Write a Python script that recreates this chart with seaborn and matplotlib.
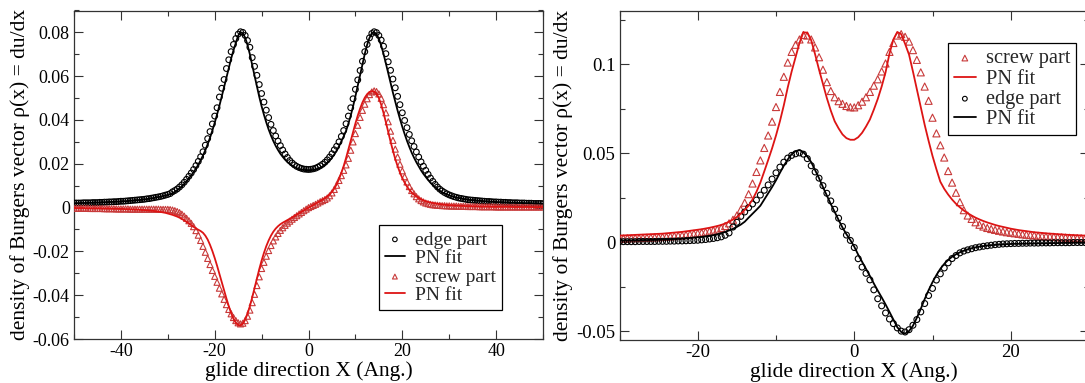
import numpy as np
import matplotlib
matplotlib.use("Agg")
import matplotlib.pyplot as plt
from matplotlib.ticker import FixedLocator, MultipleLocator
import seaborn as sns

# ---------------- data: left panel (x = -50 ... 50 Ang., step 0.5) ----------------
left_x_start, left_x_stop, left_x_step = -50.0, 50.0, 0.5

edge_pts_L = [
    0.0021, 0.0021, 0.0021, 0.0021, 0.0022, 0.0022, 0.0022, 0.0022, 0.0023, 0.0023,  # -50
    0.0023, 0.0024, 0.0024, 0.0025, 0.0025, 0.0026, 0.0026, 0.0027, 0.0027, 0.0028,  # -45
    0.0029, 0.0029, 0.0030, 0.0031, 0.0032, 0.0033, 0.0034, 0.0035, 0.0036, 0.0037,  # -40
    0.0038, 0.0040, 0.0041, 0.0043, 0.0045, 0.0047, 0.0049, 0.0051, 0.0054, 0.0057,  # -35
    0.0060, 0.0064, 0.0072, 0.0078, 0.0085, 0.0094, 0.0104, 0.0116, 0.0129, 0.0143,  # -30
    0.0158, 0.0174, 0.0192, 0.0211, 0.0232, 0.0255, 0.0285, 0.0315, 0.0347, 0.0382,  # -25
    0.0418, 0.0456, 0.0505, 0.0545, 0.0585, 0.0635, 0.0675, 0.0712, 0.0745, 0.0772,  # -20
    0.0792, 0.0803, 0.0800, 0.0786, 0.0763, 0.0732, 0.0685, 0.0645, 0.0604, 0.0562,  # -15
    0.0521, 0.0482, 0.0445, 0.0411, 0.0380, 0.0352, 0.0327, 0.0304, 0.0283, 0.0263,  # -10
    0.0245, 0.0229, 0.0215, 0.0204, 0.0195, 0.0188, 0.0183, 0.0179, 0.0176, 0.0175,  # -5
    0.0174, 0.0175, 0.0177, 0.0180, 0.0185, 0.0191, 0.0198, 0.0207, 0.0218, 0.0231,  # 0
    0.0246, 0.0264, 0.0280, 0.0300, 0.0325, 0.0352, 0.0383, 0.0418, 0.0456, 0.0497,  # 5
    0.0540, 0.0583, 0.0626, 0.0668, 0.0712, 0.0745, 0.0775, 0.0795, 0.0803, 0.0799,  # 10
    0.0786, 0.0765, 0.0737, 0.0703, 0.0666, 0.0627, 0.0587, 0.0547, 0.0508, 0.0470,  # 15
    0.0433, 0.0398, 0.0365, 0.0334, 0.0305, 0.0279, 0.0254, 0.0231, 0.0209, 0.0189,  # 20
    0.0170, 0.0152, 0.0135, 0.0120, 0.0106, 0.0094, 0.0084, 0.0076, 0.0069, 0.0063,  # 25
    0.0058, 0.0054, 0.0050, 0.0047, 0.0044, 0.0042, 0.0040, 0.0038, 0.0036, 0.0035,  # 30
    0.0034, 0.0033, 0.0032, 0.0031, 0.0030, 0.0029, 0.0028, 0.0028, 0.0027, 0.0026,  # 35
    0.0026, 0.0025, 0.0025, 0.0024, 0.0024, 0.0023, 0.0023, 0.0022, 0.0022, 0.0022,  # 40
    0.0021, 0.0021, 0.0021, 0.0020, 0.0020, 0.0020, 0.0019, 0.0019, 0.0019, 0.0019,  # 45
    0.0018,                                                                          # 50
]

edge_fit_L = [
    0.0020, 0.0020, 0.0020, 0.0021, 0.0021, 0.0021, 0.0022, 0.0022, 0.0022, 0.0023,  # -50
    0.0023, 0.0023, 0.0024, 0.0024, 0.0025, 0.0025, 0.0026, 0.0026, 0.0027, 0.0027,  # -45
    0.0028, 0.0029, 0.0029, 0.0030, 0.0031, 0.0032, 0.0033, 0.0034, 0.0035, 0.0036,  # -40
    0.0037, 0.0039, 0.0040, 0.0042, 0.0044, 0.0046, 0.0048, 0.0050, 0.0052, 0.0055,  # -35
    0.0058, 0.0062, 0.0066, 0.0072, 0.0080, 0.0088, 0.0097, 0.0108, 0.0120, 0.0133,  # -30
    0.0147, 0.0162, 0.0178, 0.0196, 0.0216, 0.0238, 0.0262, 0.0289, 0.0319, 0.0352,  # -25
    0.0387, 0.0425, 0.0465, 0.0507, 0.0550, 0.0594, 0.0638, 0.0680, 0.0718, 0.0752,  # -20
    0.0785, 0.0801, 0.0796, 0.0776, 0.0742, 0.0700, 0.0652, 0.0602, 0.0553, 0.0506,  # -15
    0.0463, 0.0424, 0.0389, 0.0357, 0.0329, 0.0304, 0.0282, 0.0263, 0.0246, 0.0232,  # -10
    0.0219, 0.0208, 0.0199, 0.0191, 0.0185, 0.0180, 0.0176, 0.0173, 0.0172, 0.0171,  # -5
    0.0171, 0.0171, 0.0172, 0.0174, 0.0177, 0.0182, 0.0188, 0.0195, 0.0204, 0.0215,  # 0
    0.0228, 0.0243, 0.0260, 0.0280, 0.0302, 0.0325, 0.0350, 0.0383, 0.0420, 0.0462,  # 5
    0.0508, 0.0557, 0.0607, 0.0656, 0.0702, 0.0743, 0.0775, 0.0796, 0.0801, 0.0792,  # 10
    0.0771, 0.0740, 0.0702, 0.0659, 0.0614, 0.0569, 0.0525, 0.0483, 0.0443, 0.0405,  # 15
    0.0369, 0.0336, 0.0305, 0.0277, 0.0251, 0.0228, 0.0207, 0.0188, 0.0170, 0.0154,  # 20
    0.0140, 0.0126, 0.0114, 0.0103, 0.0093, 0.0084, 0.0077, 0.0070, 0.0065, 0.0060,  # 25
    0.0056, 0.0052, 0.0049, 0.0046, 0.0044, 0.0042, 0.0040, 0.0038, 0.0036, 0.0035,  # 30
    0.0034, 0.0033, 0.0032, 0.0031, 0.0030, 0.0029, 0.0028, 0.0027, 0.0027, 0.0026,  # 35
    0.0025, 0.0025, 0.0024, 0.0024, 0.0023, 0.0023, 0.0022, 0.0022, 0.0022, 0.0021,  # 40
    0.0021, 0.0021, 0.0020, 0.0020, 0.0020, 0.0020, 0.0019, 0.0019, 0.0019, 0.0018,  # 45
    0.0018,                                                                          # 50
]

screw_pts_L = [
    -0.0003, -0.0003, -0.0003, -0.0003, -0.0003, -0.0003, -0.0003, -0.0004, -0.0004, -0.0004,  # -50
    -0.0004, -0.0004, -0.0004, -0.0005, -0.0005, -0.0005, -0.0005, -0.0005, -0.0006, -0.0006,  # -45
    -0.0006, -0.0006, -0.0006, -0.0006, -0.0007, -0.0007, -0.0007, -0.0007, -0.0007, -0.0007,  # -40
    -0.0007, -0.0007, -0.0007, -0.0007, -0.0007, -0.0007, -0.0007, -0.0008, -0.0008, -0.0008,  # -35
    -0.0008, -0.0009, -0.0011, -0.0014, -0.0018, -0.0023, -0.0030, -0.0039, -0.0049, -0.0060,  # -30
    -0.0072, -0.0087, -0.0105, -0.0126, -0.0150, -0.0177, -0.0204, -0.0232, -0.0260, -0.0287,  # -25
    -0.0314, -0.0341, -0.0368, -0.0394, -0.0419, -0.0443, -0.0465, -0.0485, -0.0502, -0.0516,  # -20
    -0.0526, -0.0531, -0.0528, -0.0516, -0.0496, -0.0468, -0.0434, -0.0396, -0.0356, -0.0316,  # -15
    -0.0278, -0.0250, -0.0222, -0.0196, -0.0173, -0.0152, -0.0134, -0.0118, -0.0104, -0.0092,  # -10
    -0.0081, -0.0071, -0.0062, -0.0053, -0.0045, -0.0037, -0.0029, -0.0022, -0.0014, -0.0007,  # -5
    0.0000, 0.0005, 0.0010, 0.0015, 0.0021, 0.0027, 0.0032, 0.0037, 0.0044, 0.0054,  # 0
    0.0067, 0.0083, 0.0102, 0.0124, 0.0146, 0.0170, 0.0195, 0.0225, 0.0262, 0.0300,  # 5
    0.0338, 0.0376, 0.0412, 0.0444, 0.0472, 0.0497, 0.0516, 0.0528, 0.0533, 0.0530,  # 10
    0.0519, 0.0499, 0.0470, 0.0433, 0.0392, 0.0349, 0.0307, 0.0267, 0.0231, 0.0198,  # 15
    0.0168, 0.0141, 0.0117, 0.0096, 0.0078, 0.0063, 0.0050, 0.0040, 0.0032, 0.0026,  # 20
    0.0021, 0.0018, 0.0015, 0.0013, 0.0012, 0.0011, 0.0010, 0.0009, 0.0009, 0.0008,  # 25
    0.0008, 0.0007, 0.0007, 0.0007, 0.0006, 0.0006, 0.0006, 0.0006, 0.0005, 0.0005,  # 30
    0.0005, 0.0005, 0.0005, 0.0004, 0.0004, 0.0004, 0.0004, 0.0004, 0.0004, 0.0004,  # 35
    0.0003, 0.0003, 0.0003, 0.0003, 0.0003, 0.0003, 0.0003, 0.0003, 0.0003, 0.0003,  # 40
    0.0003, 0.0003, 0.0003, 0.0003, 0.0003, 0.0003, 0.0003, 0.0003, 0.0003, 0.0003,  # 45
    0.0003,                                                                          # 50
]

screw_fit_L = [
    -0.0002, -0.0002, -0.0002, -0.0002, -0.0002, -0.0003, -0.0003, -0.0003, -0.0003, -0.0003,  # -50
    -0.0003, -0.0003, -0.0004, -0.0004, -0.0004, -0.0004, -0.0005, -0.0005, -0.0005, -0.0006,  # -45
    -0.0006, -0.0006, -0.0007, -0.0007, -0.0008, -0.0008, -0.0009, -0.0009, -0.0010, -0.0011,  # -40
    -0.0011, -0.0012, -0.0013, -0.0014, -0.0015, -0.0017, -0.0018, -0.0020, -0.0022, -0.0024,  # -35
    -0.0027, -0.0030, -0.0033, -0.0037, -0.0041, -0.0046, -0.0052, -0.0058, -0.0065, -0.0072,  # -30
    -0.0080, -0.0088, -0.0095, -0.0101, -0.0107, -0.0115, -0.0128, -0.0146, -0.0170, -0.0198,  # -25
    -0.0230, -0.0265, -0.0302, -0.0340, -0.0378, -0.0415, -0.0450, -0.0482, -0.0508, -0.0526,  # -20
    -0.0536, -0.0538, -0.0530, -0.0512, -0.0485, -0.0450, -0.0410, -0.0367, -0.0323, -0.0281,  # -15
    -0.0242, -0.0207, -0.0176, -0.0150, -0.0128, -0.0110, -0.0096, -0.0085, -0.0076, -0.0069,  # -10
    -0.0063, -0.0057, -0.0051, -0.0045, -0.0039, -0.0032, -0.0026, -0.0019, -0.0013, -0.0006,  # -5
    0.0000, 0.0006, 0.0012, 0.0018, 0.0024, 0.0030, 0.0036, 0.0043, 0.0051, 0.0060,  # 0
    0.0072, 0.0087, 0.0106, 0.0130, 0.0158, 0.0190, 0.0226, 0.0265, 0.0305, 0.0345,  # 5
    0.0384, 0.0420, 0.0452, 0.0480, 0.0502, 0.0518, 0.0528, 0.0532, 0.0530, 0.0520,  # 10
    0.0500, 0.0470, 0.0432, 0.0390, 0.0345, 0.0301, 0.0260, 0.0222, 0.0189, 0.0160,  # 15
    0.0135, 0.0114, 0.0096, 0.0081, 0.0069, 0.0059, 0.0051, 0.0044, 0.0038, 0.0033,  # 20
    0.0029, 0.0026, 0.0023, 0.0021, 0.0019, 0.0017, 0.0016, 0.0014, 0.0013, 0.0012,  # 25
    0.0011, 0.0011, 0.0010, 0.0009, 0.0009, 0.0008, 0.0008, 0.0007, 0.0007, 0.0007,  # 30
    0.0006, 0.0006, 0.0006, 0.0005, 0.0005, 0.0005, 0.0005, 0.0005, 0.0004, 0.0004,  # 35
    0.0004, 0.0004, 0.0004, 0.0004, 0.0004, 0.0004, 0.0004, 0.0003, 0.0003, 0.0003,  # 40
    0.0003, 0.0003, 0.0003, 0.0003, 0.0003, 0.0003, 0.0002, 0.0002, 0.0002, 0.0002,  # 45
    0.0002,                                                                          # 50
]

# ---------------- data: right panel (x = -30 ... 30 Ang., step 0.5) ----------------
right_x_start, right_x_stop, right_x_step = -30.0, 30.0, 0.5

screw_pts_R = [
    0.0021, 0.0021, 0.0022, 0.0022, 0.0023, 0.0023, 0.0024, 0.0025, 0.0026, 0.0027,  # -30
    0.0028, 0.0029, 0.0030, 0.0032, 0.0034, 0.0036, 0.0038, 0.0041, 0.0044, 0.0047,  # -25
    0.0050, 0.0053, 0.0057, 0.0061, 0.0066, 0.0072, 0.0080, 0.0091, 0.0106, 0.0126,  # -20
    0.0150, 0.0183, 0.0222, 0.0270, 0.0330, 0.0395, 0.0460, 0.0530, 0.0600, 0.0678,  # -15
    0.0760, 0.0845, 0.0930, 0.1010, 0.1070, 0.1110, 0.1140, 0.1165, 0.1162, 0.1140,  # -10
    0.1095, 0.1040, 0.0970, 0.0900, 0.0850, 0.0815, 0.0793, 0.0778, 0.0766, 0.0759,  # -5
    0.0758, 0.0770, 0.0790, 0.0815, 0.0845, 0.0880, 0.0916, 0.0960, 0.1005, 0.1070,  # 0
    0.1120, 0.1162, 0.1170, 0.1155, 0.1128, 0.1080, 0.1025, 0.0955, 0.0875, 0.0795,  # 5
    0.0700, 0.0612, 0.0545, 0.0476, 0.0400, 0.0335, 0.0278, 0.0225, 0.0180, 0.0150,  # 10
    0.0131, 0.0112, 0.0098, 0.0088, 0.0080, 0.0074, 0.0069, 0.0064, 0.0060, 0.0056,  # 15
    0.0053, 0.0050, 0.0047, 0.0044, 0.0042, 0.0040, 0.0038, 0.0036, 0.0034, 0.0032,  # 20
    0.0031, 0.0030, 0.0028, 0.0027, 0.0026, 0.0025, 0.0024, 0.0023, 0.0022, 0.0021,  # 25
    0.0021,                                                                          # 30
]

screw_fit_R = [
    0.0037, 0.0038, 0.0039, 0.0040, 0.0041, 0.0042, 0.0043, 0.0044, 0.0045, 0.0046,  # -30
    0.0047, 0.0048, 0.0050, 0.0052, 0.0054, 0.0056, 0.0058, 0.0061, 0.0064, 0.0067,  # -25
    0.0070, 0.0073, 0.0077, 0.0081, 0.0086, 0.0091, 0.0097, 0.0105, 0.0115, 0.0127,  # -20
    0.0142, 0.0160, 0.0181, 0.0206, 0.0240, 0.0283, 0.0335, 0.0398, 0.0462, 0.0528,  # -15
    0.0600, 0.0680, 0.0770, 0.0870, 0.0960, 0.1040, 0.1120, 0.1180, 0.1178, 0.1135,  # -10
    0.1056, 0.0970, 0.0890, 0.0810, 0.0740, 0.0680, 0.0640, 0.0606, 0.0585, 0.0576,  # -5
    0.0576, 0.0590, 0.0615, 0.0650, 0.0690, 0.0745, 0.0805, 0.0875, 0.0955, 0.1060,  # 0
    0.1140, 0.1182, 0.1170, 0.1115, 0.1055, 0.0960, 0.0860, 0.0760, 0.0660, 0.0570,  # 5
    0.0485, 0.0410, 0.0340, 0.0300, 0.0268, 0.0240, 0.0216, 0.0196, 0.0178, 0.0163,  # 10
    0.0150, 0.0138, 0.0128, 0.0119, 0.0111, 0.0104, 0.0097, 0.0091, 0.0086, 0.0081,  # 15
    0.0076, 0.0072, 0.0068, 0.0065, 0.0062, 0.0059, 0.0056, 0.0054, 0.0052, 0.0050,  # 20
    0.0048, 0.0047, 0.0045, 0.0044, 0.0042, 0.0041, 0.0040, 0.0039, 0.0038, 0.0037,  # 25
    0.0036,                                                                          # 30
]

edge_pts_R = [
    0.0003, 0.0003, 0.0003, 0.0003, 0.0003, 0.0004, 0.0004, 0.0004, 0.0004, 0.0004,  # -30
    0.0005, 0.0005, 0.0005, 0.0006, 0.0006, 0.0007, 0.0007, 0.0008, 0.0009, 0.0010,  # -25
    0.0011, 0.0013, 0.0015, 0.0018, 0.0021, 0.0025, 0.0030, 0.0039, 0.0052, 0.0085,  # -20
    0.0112, 0.0145, 0.0170, 0.0194, 0.0215, 0.0237, 0.0265, 0.0292, 0.0322, 0.0355,  # -15
    0.0390, 0.0422, 0.0450, 0.0473, 0.0488, 0.0497, 0.0502, 0.0495, 0.0470, 0.0430,  # -10
    0.0395, 0.0360, 0.0318, 0.0275, 0.0232, 0.0185, 0.0135, 0.0088, 0.0040, 0.0010,  # -5
    -0.0030, -0.0093, -0.0140, -0.0175, -0.0212, -0.0268, -0.0318, -0.0358, -0.0398, -0.0432,  # 0
    -0.0458, -0.0482, -0.0500, -0.0505, -0.0492, -0.0467, -0.0435, -0.0392, -0.0345, -0.0300,  # 5
    -0.0260, -0.0213, -0.0178, -0.0145, -0.0116, -0.0092, -0.0075, -0.0060, -0.0050, -0.0043,  # 10
    -0.0037, -0.0031, -0.0027, -0.0023, -0.0020, -0.0017, -0.0014, -0.0012, -0.0010, -0.0009,  # 15
    -0.0008, -0.0007, -0.0007, -0.0006, -0.0006, -0.0005, -0.0005, -0.0005, -0.0004, -0.0004,  # 20
    -0.0004, -0.0003, -0.0003, -0.0003, -0.0003, -0.0003, -0.0002, -0.0002, -0.0002, -0.0002,  # 25
    -0.0002,                                                                                   # 30
]

edge_fit_R = [
    0.0009, 0.0009, 0.0010, 0.0010, 0.0011, 0.0011, 0.0012, 0.0012, 0.0013, 0.0013,  # -30
    0.0014, 0.0015, 0.0016, 0.0017, 0.0018, 0.0019, 0.0020, 0.0022, 0.0024, 0.0026,  # -25
    0.0028, 0.0030, 0.0033, 0.0036, 0.0040, 0.0045, 0.0051, 0.0058, 0.0066, 0.0075,  # -20
    0.0086, 0.0099, 0.0115, 0.0138, 0.0160, 0.0182, 0.0205, 0.0240, 0.0275, 0.0310,  # -15
    0.0348, 0.0390, 0.0430, 0.0465, 0.0495, 0.0512, 0.0518, 0.0506, 0.0482, 0.0450,  # -10
    0.0405, 0.0360, 0.0310, 0.0262, 0.0215, 0.0170, 0.0125, 0.0082, 0.0045, 0.0012,  # -5
    -0.0025, -0.0070, -0.0110, -0.0150, -0.0190, -0.0232, -0.0272, -0.0310, -0.0350, -0.0392,  # 0
    -0.0435, -0.0478, -0.0505, -0.0514, -0.0500, -0.0470, -0.0425, -0.0375, -0.0320, -0.0270,  # 5
    -0.0225, -0.0185, -0.0150, -0.0122, -0.0100, -0.0082, -0.0068, -0.0057, -0.0048, -0.0040,  # 10
    -0.0034, -0.0029, -0.0025, -0.0022, -0.0019, -0.0017, -0.0015, -0.0013, -0.0012, -0.0011,  # 15
    -0.0010, -0.0009, -0.0009, -0.0008, -0.0008, -0.0007, -0.0007, -0.0006, -0.0006, -0.0006,  # 20
    -0.0005, -0.0005, -0.0005, -0.0004, -0.0004, -0.0004, -0.0003, -0.0003, -0.0003, -0.0003,  # 25
    -0.0002,                                                                                   # 30
]

# ---------------- ticks and texts ----------------
left_xticks = [-40, -20, 0, 20, 40]
left_xticklabels = ["-40", "-20", "0", "20", "40"]
left_yticks = [-0.06, -0.04, -0.02, 0.0, 0.02, 0.04, 0.06, 0.08]
left_yticklabels = ["-0.06", "-0.04", "-0.02", "0", "0.02", "0.04", "0.06", "0.08"]
right_xticks = [-20, 0, 20]
right_xticklabels = ["-20", "0", "20"]
right_yticks = [-0.05, 0.0, 0.05, 0.1]
right_yticklabels = ["-0.05", "0", "0.05", "0.1"]

x_label = "glide direction X (Ang.)"
y_label = "density of Burgers vector \u03c1(x) = du/dx"
lab_edge, lab_screw, lab_fit = "edge part", "screw part", "PN fit"

# ---------------- build x grids ----------------
xL = np.arange(left_x_start, left_x_stop + left_x_step / 2, left_x_step)
xR = np.arange(right_x_start, right_x_stop + right_x_step / 2, right_x_step)
for arr in (edge_pts_L, edge_fit_L, screw_pts_L, screw_fit_L):
    assert len(arr) == len(xL), len(arr)
for arr in (screw_pts_R, screw_fit_R, edge_pts_R, edge_fit_R):
    assert len(arr) == len(xR), len(arr)

# ---------------- style ----------------
sns.set_style("ticks")
plt.rcParams["font.family"] = ["Liberation Serif", "DejaVu Serif"]
plt.rcParams["axes.unicode_minus"] = False

RED_LINE = "#dd1414"
RED_TRI = "#c83a3a"
SPINE = "#333333"

fig = plt.figure(figsize=(10.85, 3.83), dpi=100)
axL = fig.add_axes([74 / 1085, 1 - 339 / 383, 469 / 1085, 328.5 / 383])
axR = fig.add_axes([619.5 / 1085, 1 - 340 / 383, 469.5 / 1085, 329 / 383])


def style_axes(ax, xlim, ylim, xt, xtl, yt, ytl, xminor, yminor, tick_fs, label_fs, ylabpad):
    ax.set_xlim(*xlim)
    ax.set_ylim(*ylim)
    ax.xaxis.set_major_locator(FixedLocator(xt))
    ax.set_xticklabels(xtl)
    ax.yaxis.set_major_locator(FixedLocator(yt))
    ax.set_yticklabels(ytl)
    ax.xaxis.set_minor_locator(MultipleLocator(xminor))
    ax.yaxis.set_minor_locator(MultipleLocator(yminor))
    ax.tick_params(which="both", direction="in", top=True, right=True,
                   color=SPINE, labelcolor="black", width=0.8)
    ax.tick_params(which="major", length=6.5, labelsize=tick_fs, pad=3.0)
    ax.tick_params(which="minor", length=3.3)
    for sp in ax.spines.values():
        sp.set_color(SPINE)
        sp.set_linewidth(0.9)
    ax.set_xlabel(x_label, fontsize=label_fs, labelpad=0.5, color="black")
    ax.set_ylabel(y_label, fontsize=label_fs, labelpad=ylabpad, color="black")


# ---------------- left panel ----------------
sns.scatterplot(x=xL, y=edge_pts_L, ax=axL, marker="o", s=17, facecolors="none",
                edgecolor="black", linewidth=0.8, label=lab_edge, zorder=3)
sns.lineplot(x=xL, y=edge_fit_L, ax=axL, color="black", linewidth=1.3,
             label=lab_fit, estimator=None, sort=False, zorder=4)
sns.scatterplot(x=xL, y=screw_pts_L, ax=axL, marker="^", s=19, facecolors="none",
                edgecolor=RED_TRI, linewidth=0.8, label=lab_screw, zorder=3)
sns.lineplot(x=xL, y=screw_fit_L, ax=axL, color=RED_LINE, linewidth=1.3,
             label=lab_fit, estimator=None, sort=False, zorder=4)

style_axes(axL, (-50, 50), (-0.06, 0.09), left_xticks, left_xticklabels,
           left_yticks, left_yticklabels, 10, 0.01, 13, 15.5, 2)
legL = axL.legend(loc="lower left", bbox_to_anchor=(0.650, 0.088), borderaxespad=0,
                  frameon=True, fancybox=False, edgecolor="black", framealpha=1,
                  fontsize=14, handlelength=1.05, handletextpad=0.5,
                  labelspacing=0.05, borderpad=0.3, markerscale=0.8)
legL.get_frame().set_linewidth(0.9)

# ---------------- right panel ----------------
sns.scatterplot(x=xR, y=screw_pts_R, ax=axR, marker="^", s=26, facecolors="none",
                edgecolor=RED_TRI, linewidth=0.8, label=lab_screw, zorder=3)
sns.lineplot(x=xR, y=screw_fit_R, ax=axR, color=RED_LINE, linewidth=1.3,
             label=lab_fit, estimator=None, sort=False, zorder=4)
sns.scatterplot(x=xR, y=edge_pts_R, ax=axR, marker="o", s=18, facecolors="none",
                edgecolor="black", linewidth=0.8, label=lab_edge, zorder=3)
sns.lineplot(x=xR, y=edge_fit_R, ax=axR, color="black", linewidth=1.3,
             label=lab_fit, estimator=None, sort=False, zorder=4)

style_axes(axR, (-30, 30), (-0.055, 0.13), right_xticks, right_xticklabels,
           right_yticks, right_yticklabels, 10, 0.025, 13.5, 15.5, 2)
legR = axR.legend(loc="upper left", bbox_to_anchor=(0.6997, 0.9027), borderaxespad=0,
                  frameon=True, fancybox=False, edgecolor="black", framealpha=1,
                  fontsize=14.7, handlelength=1.05, handletextpad=0.5,
                  labelspacing=0.05, borderpad=0.3, markerscale=0.8)
legR.get_frame().set_linewidth(0.9)

fig.savefig("out.png", dpi=100)
